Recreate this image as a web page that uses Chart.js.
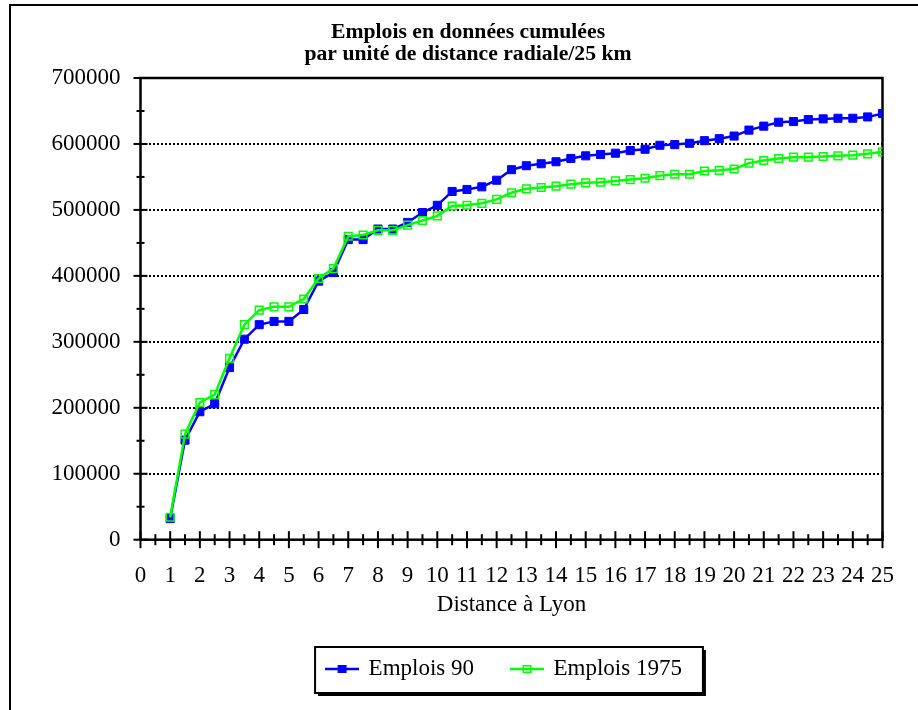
<!DOCTYPE html>
<html><head><meta charset="utf-8">
<script src="https://cdn.jsdelivr.net/npm/chart.js@4"></script>
<style>html,body{margin:0;padding:0;background:#fff;overflow:hidden;} canvas{display:block;}</style>
</head><body>
<canvas id="c" width="918" height="710"></canvas>
<script>
const distances = [1,1.5,2,2.5,3,3.5,4,4.5,5,5.5,6,6.5,7,7.5,8,8.5,9,9.5,10,10.5,11,11.5,12,12.5,13,13.5,14,14.5,15,15.5,16,16.5,17,17.5,18,18.5,19,19.5,20,20.5,21,21.5,22,22.5,23,23.5,24,24.5,25];
const emplois90 = [32000,151000,194000,206000,261000,304000,326000,331000,331000,349000,392000,405000,455000,455000,471000,471000,481000,496000,507000,528000,531000,535000,545000,561000,567000,570000,573000,578000,582000,584000,586000,590000,592000,598000,599000,601000,605000,608000,612000,621000,627000,633000,634000,637000,638000,639000,639000,641000,646000];
const emplois1975 = [34000,160000,208000,220000,275000,326000,348000,353000,353000,365000,396000,411000,460000,462000,469000,469000,477000,484000,491000,506000,507000,510000,516000,526000,532000,534000,536000,539000,541000,542000,544000,546000,548000,552000,554000,554000,559000,560000,562000,571000,575000,578000,580000,580000,581000,582000,583000,585000,588000];
const seriesNames = ['Emplois 90', 'Emplois 1975'];
const titleLines = ['Emplois en données cumulées', 'par unité de distance radiale/25 km'];
const xAxisTitle = 'Distance à Lyon';
const xTickLabels = [0,1,2,3,4,5,6,7,8,9,10,11,12,13,14,15,16,17,18,19,20,21,22,23,24,25];
const yTickLabels = [0,100000,200000,300000,400000,500000,600000,700000];

const FONT = "'Liberation Serif', 'Times New Roman', serif";
const BLUE = '#0000ff', GREEN = '#00ff00';

function legendMarker(color, filled) {
  const c = document.createElement('canvas');
  c.width = 34; c.height = 12;
  const g = c.getContext('2d');
  g.strokeStyle = color; g.lineWidth = 2.5;
  g.beginPath(); g.moveTo(0, 6); g.lineTo(34, 6); g.stroke();
  if (filled) { g.fillStyle = color; g.fillRect(12.5, 2, 9, 8); }
  else { g.lineWidth = 1.5; g.strokeRect(13.25, 2.75, 7.5, 6.5); }
  return c;
}
const markers = [legendMarker(BLUE, true), legendMarker(GREEN, false)];

const decor = {
  id: 'decor',
  afterLayout(chart) {
    const lg = chart.legend;
    if (lg) { lg.left -= 7; lg.right -= 7; }
  },
  beforeDraw(chart) {
    const ctx = chart.ctx;
    ctx.save();
    ctx.strokeStyle = '#000'; ctx.lineWidth = 2;
    ctx.beginPath(); ctx.moveTo(10, 712); ctx.lineTo(10, 5); ctx.lineTo(920, 5); ctx.stroke();
    const hb = chart.legend.legendHitBoxes;
    if (hb && hb.length) {
      const f = hb[0], l = hb[hb.length - 1];
      const L = f.left - 12, R = l.left + l.width + 21, T = f.top - 10.5, B = f.top + f.height + 12.5;
      ctx.fillStyle = '#000'; ctx.fillRect(L + 3, T + 3, R - L, B - T);
      ctx.fillStyle = '#fff'; ctx.fillRect(L, T, R - L, B - T);
      ctx.lineWidth = 2; ctx.strokeRect(L, T, R - L, B - T);
    }
    ctx.restore();
  },
  beforeDatasetsDraw(chart) {
    const ctx = chart.ctx, a = chart.chartArea;
    const xs = chart.scales.x, ys = chart.scales.y;
    ctx.save();
    ctx.strokeStyle = '#000';
    ctx.lineWidth = 2;
    ys.ticks.forEach(t => {
      const p = ys.getPixelForValue(t.value);
      const h = yTickLabels.includes(t.value) ? 7 : 4;
      ctx.beginPath(); ctx.moveTo(a.left - h, p); ctx.lineTo(a.left + h, p); ctx.stroke();
    });
    xs.ticks.forEach(t => {
      const p = xs.getPixelForValue(t.value);
      const h = xTickLabels.includes(t.value) ? 8.5 : 5.5;
      ctx.beginPath(); ctx.moveTo(p, a.bottom - h); ctx.lineTo(p, a.bottom + h); ctx.stroke();
    });
    ctx.lineWidth = 2.5;
    ctx.strokeRect(a.left, a.top, a.right - a.left, a.bottom - a.top);
    ctx.restore();
  }
};

new Chart(document.getElementById('c'), {
  type: 'line',
  data: {
    datasets: [
      {
        label: seriesNames[0],
        data: distances.map((d, i) => ({x: d, y: emplois90[i]})),
        borderColor: BLUE, backgroundColor: BLUE,
        borderWidth: 2.5, tension: 0,
        pointStyle: 'rect', pointRadius: 5.7, pointBorderWidth: 1,
        pointBackgroundColor: BLUE, pointBorderColor: BLUE,
        order: 2
      },
      {
        label: seriesNames[1],
        data: distances.map((d, i) => ({x: d, y: emplois1975[i]})),
        borderColor: GREEN, backgroundColor: 'rgba(0,0,0,0)',
        borderWidth: 2.5, tension: 0,
        pointStyle: 'rect', pointRadius: 5.4, pointBorderWidth: 1.5,
        pointBackgroundColor: 'rgba(0,0,0,0)', pointBorderColor: GREEN,
        order: 1
      }
    ]
  },
  options: {
    responsive: false,
    animation: false,
    devicePixelRatio: 1,
    layout: { padding: { left: 18, right: 0, top: 0, bottom: 19.5 } },
    plugins: {
      tooltip: { enabled: false },
      title: {
        display: true,
        text: titleLines,
        color: '#000',
        font: { family: FONT, size: 21.7, weight: 'bold', lineHeight: '22px' },
        padding: { top: 21, bottom: 13 }
      },
      legend: {
        position: 'bottom',
        fullSize: false,
        labels: {
          color: '#000',
          font: { family: FONT, size: 23 },
          usePointStyle: true,
          pointStyleWidth: 30,
          padding: 38,
          generateLabels(chart) {
            const items = Chart.defaults.plugins.legend.labels.generateLabels(chart);
            items.sort((a, b) => a.datasetIndex - b.datasetIndex);
            items.forEach(it => { it.pointStyle = markers[it.datasetIndex]; });
            return items;
          }
        }
      }
    },
    scales: {
      x: {
        type: 'linear',
        min: 0, max: 25,
        afterFit(s) { s.height = 79.8; },
        grid: { display: false, drawTicks: false },
        border: { display: false },
        ticks: {
          stepSize: 0.5, autoSkip: false, maxRotation: 0, minRotation: 0,
          padding: 22, color: '#000',
          font: { family: FONT, size: 23, lineHeight: 1.2 },
          callback: v => xTickLabels.includes(v) ? String(v) : ''
        },
        title: {
          display: true, text: xAxisTitle, color: '#000',
          font: { family: FONT, size: 23, lineHeight: 1.2 },
          padding: { top: 0, bottom: 1 }
        }
      },
      y: {
        type: 'linear',
        min: 0, max: 700000,
        afterFit(s) { s.width = 122.5; },
        grid: {
          drawTicks: false,
          lineWidth: 2,
          color: ctx => (ctx.tick && ctx.tick.value > 0 && ctx.tick.value < 700000 && yTickLabels.includes(ctx.tick.value)) ? '#000' : 'rgba(0,0,0,0)'
        },
        border: { display: false, dash: [2, 2] },
        ticks: {
          stepSize: 50000, autoSkip: false, padding: 20, color: '#000',
          font: { family: FONT, size: 23, lineHeight: 1.2 },
          callback: v => yTickLabels.includes(v) ? String(v) : ''
        }
      },
      yR: {
        type: 'linear', position: 'right', display: true,
        afterFit(s) { s.width = 35.5; },
        grid: { display: false, drawTicks: false },
        border: { display: false },
        ticks: { display: false }
      }
    }
  },
  plugins: [decor]
});
</script>
</body></html>
